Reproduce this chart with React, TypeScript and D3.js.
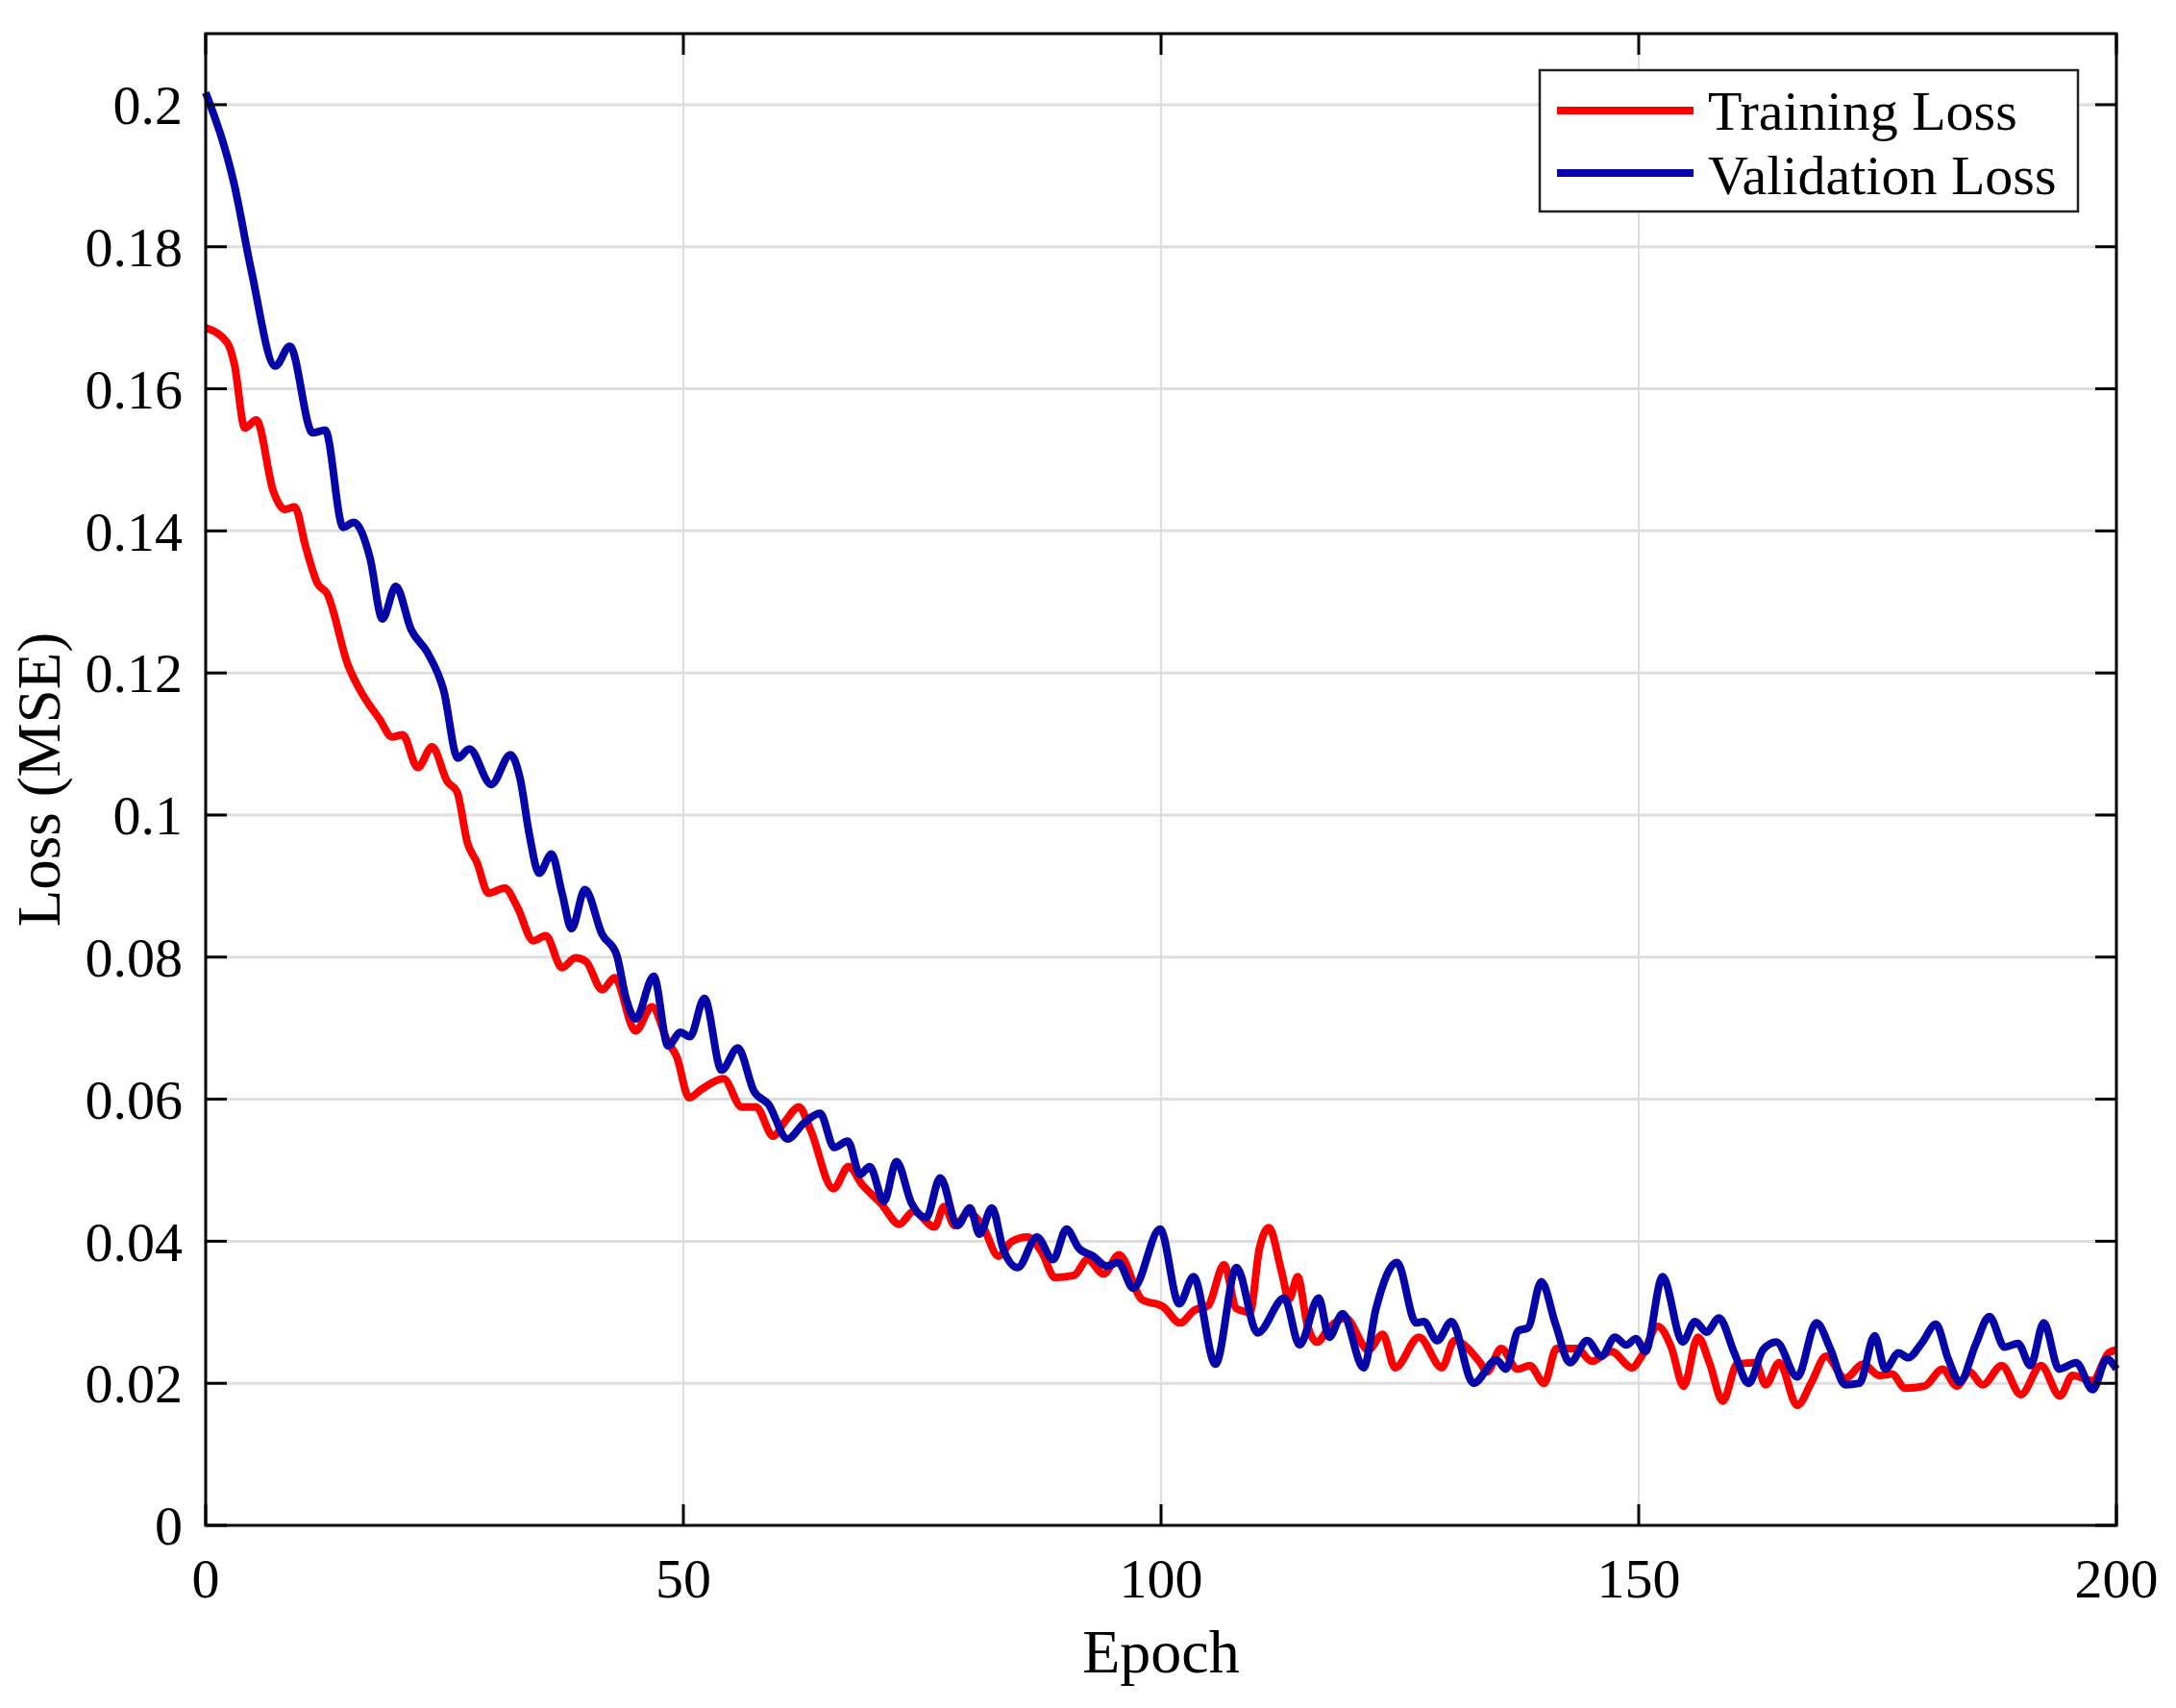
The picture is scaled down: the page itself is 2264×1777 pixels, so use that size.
import { scaleLinear, line, curveMonotoneX, range } from 'd3'

const trainEpochs = [
  0, 2.3, 3, 4.1, 5.3, 7.1, 8.3, 9.3, 10.5, 11.7, 12.7, 14.9, 16.5, 18.2, 19.5, 20.6, 22.2, 23.7, 25.3, 26.3,
  27.4, 28.4, 29.6, 31.3, 32.6, 34.3, 35.6, 37.3, 38.7, 39.8, 41.5, 42.8, 45, 46.7, 48.4, 49.3, 50.6, 51.9, 54.2,
  56.1, 57.6, 59.4, 60.6, 62.1, 63.3, 65.7, 67.3, 68.7, 70.7, 72.6, 74.1, 76.3, 77.3, 78.4, 79.8, 81.3, 83, 84.3,
  86, 87.5, 88.9, 90.9, 92.3, 94, 95.6, 98, 100.2, 102, 103.5, 104.9, 106.6, 107.9, 109.3, 110.3, 111.3, 112.6,
  113.4, 114.3, 115.3, 116.3, 117.6, 119.3, 121.7, 123.2, 124.5, 127, 129.4, 130.7, 133.4, 134.1, 135.6, 137.3,
  138.6, 140.1, 141.4, 143.5, 145.1, 147.1, 149.3, 150.3, 152, 153.4, 154.7, 156.2, 157.4, 158.8, 160.3, 162.2,
  163.3, 164.7, 166.6, 168.1, 169.6, 171.6, 173.5, 175.2, 176.5, 177.9, 179.9, 181.8, 183.3, 184.6, 186, 188,
  190, 192.1, 194.1, 195.4, 197.5, 199.2, 200,
]
const trainLoss = [
  0.1686, 0.1664, 0.1635, 0.1545, 0.1556, 0.1455, 0.143, 0.1434, 0.1376, 0.1326, 0.1312, 0.1211, 0.1168, 0.1135,
  0.111, 0.1113, 0.1067, 0.1096, 0.1047, 0.1033, 0.0961, 0.0933, 0.089, 0.0897, 0.0871, 0.0823, 0.083, 0.0785,
  0.0799, 0.0794, 0.0754, 0.0771, 0.0696, 0.073, 0.068, 0.066, 0.0602, 0.0614, 0.0629, 0.0589, 0.0589, 0.0548,
  0.0568, 0.0589, 0.0557, 0.0474, 0.0505, 0.048, 0.0453, 0.0424, 0.0442, 0.042, 0.0449, 0.0422, 0.044, 0.0422,
  0.0379, 0.0399, 0.0406, 0.0385, 0.0349, 0.0352, 0.0374, 0.0354, 0.0381, 0.0318, 0.0308, 0.0285, 0.0303, 0.0309,
  0.0367, 0.0305, 0.03, 0.039, 0.0419, 0.0358, 0.0318, 0.035, 0.0283, 0.0258, 0.0278, 0.0292, 0.0247, 0.0269,
  0.0222, 0.0265, 0.0222, 0.026, 0.0229, 0.0216, 0.0249, 0.022, 0.0225, 0.02, 0.0249, 0.0249, 0.0231, 0.0245,
  0.0222, 0.0238, 0.028, 0.0251, 0.0196, 0.0265, 0.0229, 0.0175, 0.0227, 0.0229, 0.0198, 0.0229, 0.0169, 0.0202,
  0.0238, 0.0207, 0.0227, 0.0211, 0.0213, 0.0193, 0.0196, 0.022, 0.0196, 0.0216, 0.0198, 0.0225, 0.0184, 0.0225,
  0.0182, 0.0211, 0.0204, 0.0243, 0.0247,
]

const valEpochs = [
  0, 3, 4.8, 7.3, 8.8, 11.2, 12.5, 14.4, 15.5, 17.2, 18.5, 19.9, 21.5, 23.2, 24.9, 26.4, 27.6, 29.9, 31.9, 32.9,
  33.9, 34.9, 36.2, 37.3, 38.3, 39.7, 41.5, 43, 44, 45, 46.9, 48.4, 49.7, 50.7, 52.2, 54, 55.7, 57.4, 58.9, 60.9,
  62.6, 64.3, 65.8, 67.2, 68.5, 69.5, 71, 72.3, 73.9, 75.4, 76.9, 78.7, 80, 81, 82.3, 83.5, 85, 87, 88.7, 90.1,
  91.4, 92.9, 94.3, 95.5, 97.1, 99.9, 101.9, 103.4, 105.7, 107.9, 110.1, 112.9, 114.5, 116.5, 117.6, 119, 121.2,
  122.5, 124.7, 126.7, 127.5, 128.9, 130.4, 132.7, 135.1, 136.1, 137.4, 138.4, 139.8, 141.3, 142.8, 144.6, 146.1,
  147.5, 148.7, 149.7, 150.7, 152.5, 154.6, 155.9, 157.1, 158.4, 160, 161.5, 163, 164.4, 166.6, 168.6, 170.1,
  171.6, 173.1, 174.7, 175.8, 177.2, 178.2, 179.6, 181.1, 182.4, 183.6, 185.3, 186.7, 188.3, 189.7, 191, 192.4,
  194, 195.8, 197.5, 199, 200,
]
const valLoss = [
  0.2017, 0.1887, 0.1765, 0.1632, 0.166, 0.1538, 0.1542, 0.1405, 0.1412, 0.1362, 0.1276, 0.1322, 0.1261, 0.1229,
  0.1176, 0.108, 0.1093, 0.1043, 0.1085, 0.1052, 0.0971, 0.0918, 0.0945, 0.089, 0.084, 0.0895, 0.0832, 0.0804,
  0.0742, 0.0713, 0.0773, 0.0675, 0.0694, 0.0688, 0.0742, 0.0641, 0.0672, 0.0611, 0.0593, 0.0544, 0.0566, 0.058,
  0.0532, 0.0541, 0.0494, 0.0505, 0.0456, 0.0512, 0.0453, 0.0433, 0.0489, 0.0422, 0.0447, 0.041, 0.0447, 0.0388,
  0.0363, 0.0406, 0.0374, 0.0417, 0.039, 0.0379, 0.0365, 0.037, 0.0334, 0.0417, 0.0312, 0.035, 0.0227, 0.0363,
  0.0271, 0.032, 0.0254, 0.032, 0.0265, 0.0298, 0.0222, 0.0305, 0.037, 0.0285, 0.0287, 0.026, 0.0287, 0.02,
  0.0233, 0.022, 0.0274, 0.0278, 0.0343, 0.0283, 0.0229, 0.026, 0.0238, 0.0265, 0.0254, 0.0263, 0.0245, 0.035,
  0.0258, 0.0287, 0.0272, 0.0292, 0.0243, 0.02, 0.0247, 0.0258, 0.0209, 0.0285, 0.0247, 0.0198, 0.02, 0.0267,
  0.022, 0.0243, 0.0236, 0.0256, 0.0283, 0.0234, 0.0202, 0.0256, 0.0294, 0.0251, 0.0256, 0.0225, 0.0285, 0.022,
  0.0229, 0.0191, 0.0234, 0.022,
]

const xTicks = [0, 50, 100, 150, 200]
const yTicks = range(0, 0.2001, 0.02)
const yTickLabels = ['0', '0.02', '0.04', '0.06', '0.08', '0.1', '0.12', '0.14', '0.16', '0.18', '0.2']
const seriesNames = ['Training Loss', 'Validation Loss']
const seriesColors = ['#ff0000', '#0505a8']

const W = 2264
const H = 1777
const margin = { left: 214, right: 62, top: 35, bottom: 190 }
const font = '"Liberation Serif", "Times New Roman", serif'

export default function App() {
  const x = scaleLinear().domain([0, 200]).range([margin.left, W - margin.right])
  const y = scaleLinear().domain([0, 0.21]).range([H - margin.bottom, margin.top])
  const path = line<[number, number]>()
    .x((d) => x(d[0]))
    .y((d) => y(d[1]))
    .curve(curveMonotoneX)

  const train = trainEpochs.map((e, i) => [e, trainLoss[i]] as [number, number])
  const val = valEpochs.map((e, i) => [e, valLoss[i]] as [number, number])

  const [x0, x1] = x.range()
  const [y0, y1] = y.range()
  const tick = 22

  return (
    <svg width={W} height={H} style={{ position: 'absolute', left: 0, top: 0, background: '#fff' }} fontFamily={font}>
      {/* grid */}
      <g stroke="#dedede" strokeWidth={3}>
        {yTicks.slice(1).map((t) => (
          <line key={'gy' + t} x1={x0} x2={x1} y1={y(t)} y2={y(t)} />
        ))}
        {xTicks.slice(1, -1).map((t) => (
          <line key={'gx' + t} x1={x(t)} x2={x(t)} y1={y0} y2={y1} strokeWidth={2} />
        ))}
      </g>

      {/* data */}
      <path d={path(train) ?? ''} fill="none" stroke={seriesColors[0]} strokeWidth={8} strokeLinejoin="round" />
      <path d={path(val) ?? ''} fill="none" stroke={seriesColors[1]} strokeWidth={8} strokeLinejoin="round" />

      {/* frame and inward ticks */}
      <g stroke="#000" strokeWidth={3}>
        <rect x={x0} y={y1} width={x1 - x0} height={y0 - y1} fill="none" />
        {xTicks.map((t) => (
          <g key={'tx' + t}>
            <line x1={x(t)} x2={x(t)} y1={y0} y2={y0 - tick} />
            <line x1={x(t)} x2={x(t)} y1={y1} y2={y1 + tick} />
          </g>
        ))}
        {yTicks.map((t) => (
          <g key={'ty' + t}>
            <line x1={x0} x2={x0 + tick} y1={y(t)} y2={y(t)} />
            <line x1={x1} x2={x1 - tick} y1={y(t)} y2={y(t)} />
          </g>
        ))}
      </g>

      {/* tick labels */}
      <g fontSize={58} fill="#000">
        {xTicks.map((t) => (
          <text key={'lx' + t} x={x(t)} y={1662} textAnchor="middle">
            {t}
          </text>
        ))}
        {yTicks.map((t, i) => (
          <text key={'ly' + t} x={190} y={y(t)} dy="0.35em" textAnchor="end">
            {yTickLabels[i]}
          </text>
        ))}
      </g>

      {/* axis titles */}
      <text x={(x0 + x1) / 2} y={1740} fontSize={64} textAnchor="middle">
        Epoch
      </text>
      <text transform={`translate(62, ${(y0 + y1) / 2}) rotate(-90)`} fontSize={63} textAnchor="middle">
        Loss (MSE)
      </text>

      {/* legend */}
      <g>
        <rect x={1602} y={73} width={560} height={147} fill="#fff" stroke="#222" strokeWidth={2.5} />
        {seriesNames.map((name, i) => (
          <g key={name}>
            <line x1={1620} x2={1762} y1={115 + i * 65} y2={115 + i * 65} stroke={seriesColors[i]} strokeWidth={8} />
            <text x={1777} y={135 + i * 67} fontSize={58}>
              {name}
            </text>
          </g>
        ))}
      </g>
    </svg>
  )
}
